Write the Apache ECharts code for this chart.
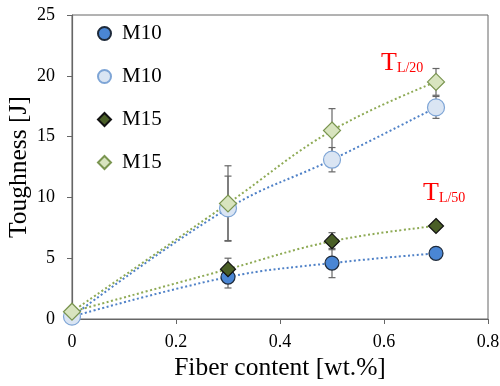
<!DOCTYPE html>
<html>
<head>
<meta charset="utf-8">
<script src="https://cdn.jsdelivr.net/npm/echarts@6/dist/echarts.min.js"></script>
<style>
  html, body { margin: 0; padding: 0; background: #fff; }
  #chart { width: 500px; height: 386px; }
</style>
</head>
<body>
<div id="chart"></div>
<script>
// fibre content (x) and toughness values
var fiberContent = [0, 0.3, 0.5, 0.7];

var m10L50 = [0.2, 3.45, 4.6, 5.4];
var m10L50Err = [0.1, 0.9, 1.2, 0.2];
var m10L20 = [0.2, 9.1, 13.1, 17.4];
var m10L20Err = [0.1, 2.65, 1.0, 0.9];
var m15L50 = [0.6, 4.1, 6.4, 7.65];
var m15L50Err = [0.1, 0.9, 0.7, 0.2];
var m15L20 = [0.6, 9.5, 15.5, 19.5];
var m15L20Err = [0.1, 3.1, 1.8, 1.1];

var yTicks = [0, 5, 10, 15, 20, 25];
var xTicks = [0, 0.2, 0.4, 0.6, 0.8];

var serif = 'Liberation Serif';

function pairs(ys) {
  return fiberContent.map(function (x, i) {
    return [x, ys[i]];
  });
}

function errData(ys, errs) {
  return fiberContent.map(function (x, i) {
    return [x, ys[i] - errs[i], ys[i] + errs[i]];
  });
}

function errorSeries(ys, errs) {
  return {
    type: 'custom',
    silent: true,
    z: 1,
    data: errData(ys, errs),
    renderItem: function (params, api) {
      var x = api.value(0);
      var lo = api.coord([x, api.value(1)]);
      var hi = api.coord([x, api.value(2)]);
      var w = 3.5;
      var st = { stroke: '#666', lineWidth: 1.2 };
      return {
        type: 'group',
        children: [
          { type: 'line', shape: { x1: lo[0], y1: lo[1], x2: hi[0], y2: hi[1] }, style: st },
          { type: 'line', shape: { x1: lo[0] - w, y1: lo[1], x2: lo[0] + w, y2: lo[1] }, style: st },
          { type: 'line', shape: { x1: hi[0] - w, y1: hi[1], x2: hi[0] + w, y2: hi[1] }, style: st },
        ],
      };
    },
  };
}

function trendSeries(ys, color) {
  return {
    type: 'line',
    silent: true,
    z: 2,
    smooth: 0.4,
    symbol: 'none',
    data: pairs(ys),
    lineStyle: { color: color, width: 2, type: [2, 2.5] },
  };
}

function markerSeries(name, ys, symbol, size, fill, border) {
  return {
    name: name,
    type: 'scatter',
    z: 3,
    symbol: symbol,
    symbolSize: size,
    data: pairs(ys),
    itemStyle: { color: fill, borderColor: border, borderWidth: 1.2, opacity: 1 },
  };
}

var subRich = {
  t: { fontFamily: serif, fontSize: 26, fill: '#ff0000' },
  s: { fontFamily: serif, fontSize: 14, fill: '#ff0000', padding: [10, 0, 0, 0] },
};

var option = {
  animation: false,
  grid: {
    left: 72,
    right: 12,
    top: 15,
    bottom: 67,
    show: true,
    borderColor: '#666',
    borderWidth: 1,
    containLabel: false,
    outerBoundsMode: 'none',
  },
  legend: {
    orient: 'vertical',
    left: 92,
    top: 18,
    itemGap: 22,
    itemWidth: 13,
    itemHeight: 13,
    data: ['M10 a', 'M10 b', 'M15 a', 'M15 b'],
    formatter: function (name) {
      return name.split(' ')[0];
    },
    textStyle: { fontFamily: serif, fontSize: 21, color: '#000', padding: [0, 0, 0, 6] },
  },
  xAxis: {
    type: 'value',
    min: 0,
    max: 0.8,
    interval: 0.2,
    name: 'Fiber content [wt.%]',
    nameLocation: 'middle',
    nameGap: 36,
    nameMoveOverlap: false,
    nameTextStyle: { fontFamily: serif, fontSize: 25.5, color: '#000' },
    axisLine: { lineStyle: { color: '#666', width: 1.2 } },
    axisTick: { show: true, length: 5, lineStyle: { color: '#666' } },
    splitLine: { show: false },
    axisLabel: {
      fontFamily: serif,
      fontSize: 18,
      color: '#000',
      margin: 14,
      formatter: function (v) {
        return xTicks.indexOf(+v.toFixed(1)) >= 0 ? String(+v.toFixed(1)) : '';
      },
    },
  },
  yAxis: {
    type: 'value',
    min: 0,
    max: 25,
    interval: 5,
    name: 'Toughness [J]',
    nameLocation: 'middle',
    nameGap: 40,
    nameMoveOverlap: false,
    nameTextStyle: { fontFamily: serif, fontSize: 25.5, color: '#000' },
    axisLine: { show: true, lineStyle: { color: '#666', width: 1.2 } },
    axisTick: { show: true, length: 5, lineStyle: { color: '#666' } },
    splitLine: { show: false },
    axisLabel: {
      fontFamily: serif,
      fontSize: 18,
      color: '#000',
      margin: 17,
      formatter: function (v) {
        return yTicks.indexOf(v) >= 0 ? String(v) : '';
      },
    },
  },
  graphic: [
    {
      type: 'text',
      left: 381,
      top: 50,
      style: { text: '{t|T}{s|L/20}', rich: subRich },
    },
    {
      type: 'text',
      left: 423,
      top: 180,
      style: { text: '{t|T}{s|L/50}', rich: subRich },
    },
  ],
  series: [
    errorSeries(m10L20, m10L20Err),
    errorSeries(m15L20, m15L20Err),
    errorSeries(m10L50, m10L50Err),
    errorSeries(m15L50, m15L50Err),
    trendSeries(m10L20, '#4f81c7'),
    trendSeries(m15L20, '#8eaa55'),
    trendSeries(m10L50, '#4f81c7'),
    trendSeries(m15L50, '#8eaa55'),
    markerSeries('M10 a', m10L50, 'circle', 14, '#4a86d4', '#1e2a3a'),
    markerSeries('M10 b', m10L20, 'circle', 17, '#dae5f3', '#7ea5d6'),
    markerSeries('M15 a', m15L50, 'diamond', 15, '#4a5f27', '#111'),
    markerSeries('M15 b', m15L20, 'diamond', 17, '#d8e4bf', '#7a9550'),
  ],
};

var chart = echarts.init(document.getElementById('chart'));
chart.setOption(option);
</script>
</body>
</html>
